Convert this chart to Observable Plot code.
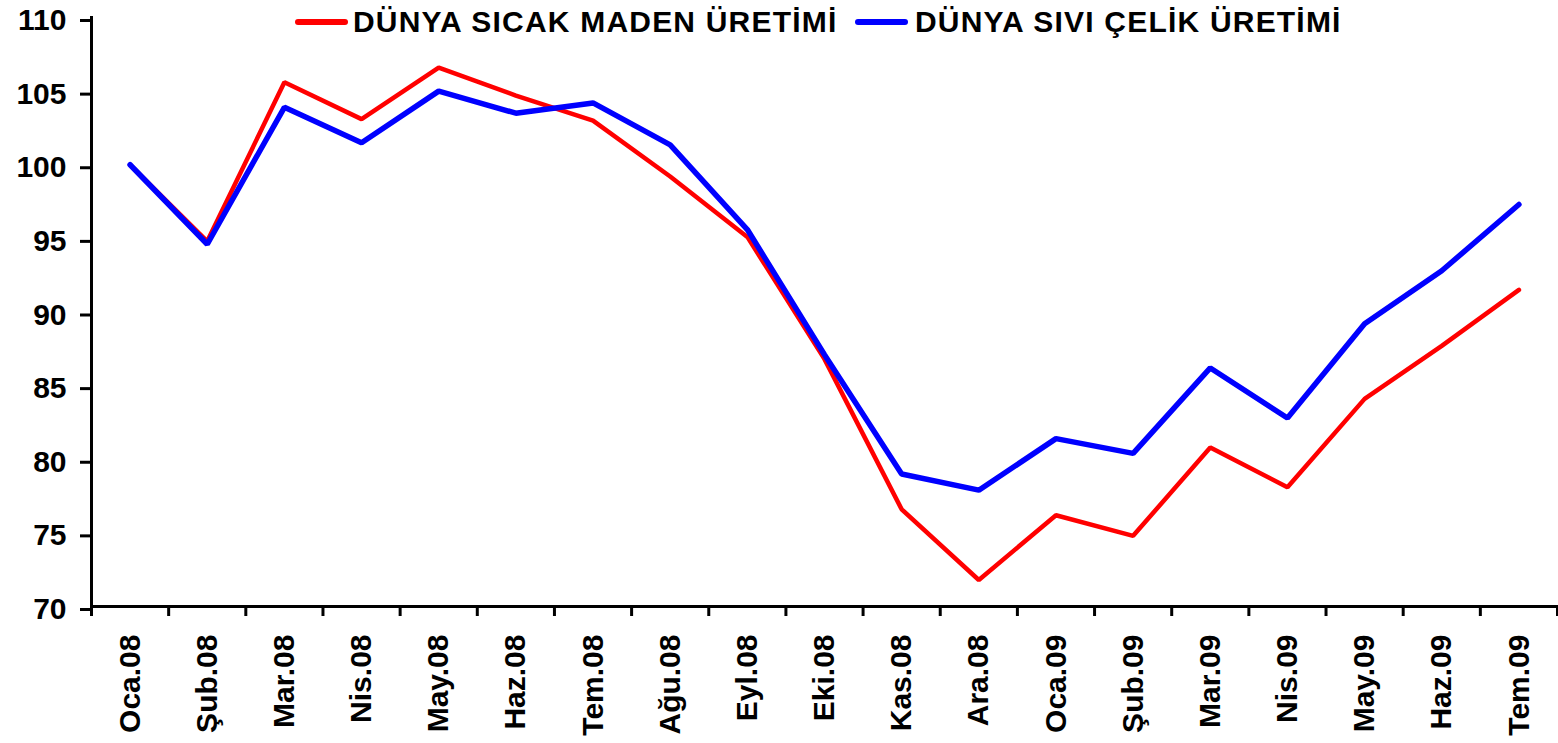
<!DOCTYPE html>
<html>
<head>
<meta charset="utf-8">
<script src="https://cdn.jsdelivr.net/npm/d3@7"></script>
<script src="https://cdn.jsdelivr.net/npm/@observablehq/plot@0.6"></script>
<style>
  html, body { margin: 0; padding: 0; background: #fff; }
  #wrap { position: relative; width: 1558px; height: 743px; }
  .lg-line { position: absolute; height: 6px; border-radius: 3px; }
  .lg-text { position: absolute; font-family: "Liberation Sans", Arial, sans-serif; font-weight: bold; font-size: 30px; letter-spacing: 1.2px; color: #000; line-height: 1; white-space: nowrap; }
</style>
</head>
<body>
<div id="wrap"></div>
<script>
const months = ["Oca.08","Şub.08","Mar.08","Nis.08","May.08","Haz.08","Tem.08","Ağu.08","Eyl.08","Eki.08","Kas.08","Ara.08","Oca.09","Şub.09","Mar.09","Nis.09","May.09","Haz.09","Tem.09"];
const sicakMaden = [100, 94.8, 105.6, 103.1, 106.6, 104.7, 103.0, 99.2, 95.1, 86.8, 76.6, 71.8, 76.2, 74.8, 80.8, 78.1, 84.1, 87.7, 91.5];
const siviCelik  = [100, 94.6, 103.9, 101.5, 105.0, 103.5, 104.2, 101.35, 95.6, 87.1, 79.0, 77.9, 81.4, 80.4, 86.2, 82.8, 89.2, 92.8, 97.3];
const yTicks = [70, 75, 80, 85, 90, 95, 100, 105, 110];
const seriesNames = ["DÜNYA SICAK MADEN ÜRETİMİ", "DÜNYA SIVI ÇELİK ÜRETİMİ"];
const seriesColors = ["#ff0000", "#0000ff"];

const idx = months.map((_, i) => i);
const boundaries = d3.range(months.length + 1).map(i => i - 0.5);

const chart = Plot.plot({
  width: 1558,
  height: 743,
  marginLeft: 91,
  marginRight: 1,
  marginTop: 17,
  marginBottom: 137,
  x: { type: "linear", domain: [-0.5, months.length - 0.5] },
  y: { domain: [70, 110] },
  style: { fontFamily: "'Liberation Sans', Arial, sans-serif", fontWeight: "bold", color: "#000", background: "#fff", overflow: "visible" },
  marks: [
    Plot.axisY({ ticks: yTicks, tickSize: 11, tickPadding: 14, strokeWidth: 3, fontSize: 30, fontWeight: "bold", label: null, dy: 3 }),
    Plot.axisX({ ticks: boundaries, tickSize: 10, strokeWidth: 3, tickFormat: () => "", label: null }),
    Plot.axisX({ ticks: idx, tickSize: 0, tickPadding: 28, tickRotate: -90, tickFormat: i => months[i], fontSize: 30, fontWeight: "bold", label: null }),
    Plot.frame({ anchor: "left", strokeWidth: 3 }),
    Plot.frame({ anchor: "bottom", strokeWidth: 3 }),
    Plot.lineY(sicakMaden, { x: (d, i) => i, y: d => d, stroke: seriesColors[0], strokeWidth: 4.5, strokeLinejoin: "miter" }),
    Plot.lineY(siviCelik, { x: (d, i) => i, y: d => d, stroke: seriesColors[1], strokeWidth: 5.5, strokeLinejoin: "miter" })
  ]
});

const wrap = document.getElementById("wrap");
wrap.appendChild(chart);

const legendPos = [
  { line: 295, text: 353 },
  { line: 855, text: 915 }
];
seriesNames.forEach((name, k) => {
  const ln = document.createElement("div");
  ln.className = "lg-line";
  ln.style.left = legendPos[k].line + "px";
  ln.style.top = "19px";
  ln.style.width = "53px";
  ln.style.background = seriesColors[k];
  wrap.appendChild(ln);
  const tx = document.createElement("div");
  tx.className = "lg-text";
  tx.style.left = legendPos[k].text + "px";
  tx.style.top = "7px";
  tx.textContent = name;
  wrap.appendChild(tx);
});
</script>
</body>
</html>
